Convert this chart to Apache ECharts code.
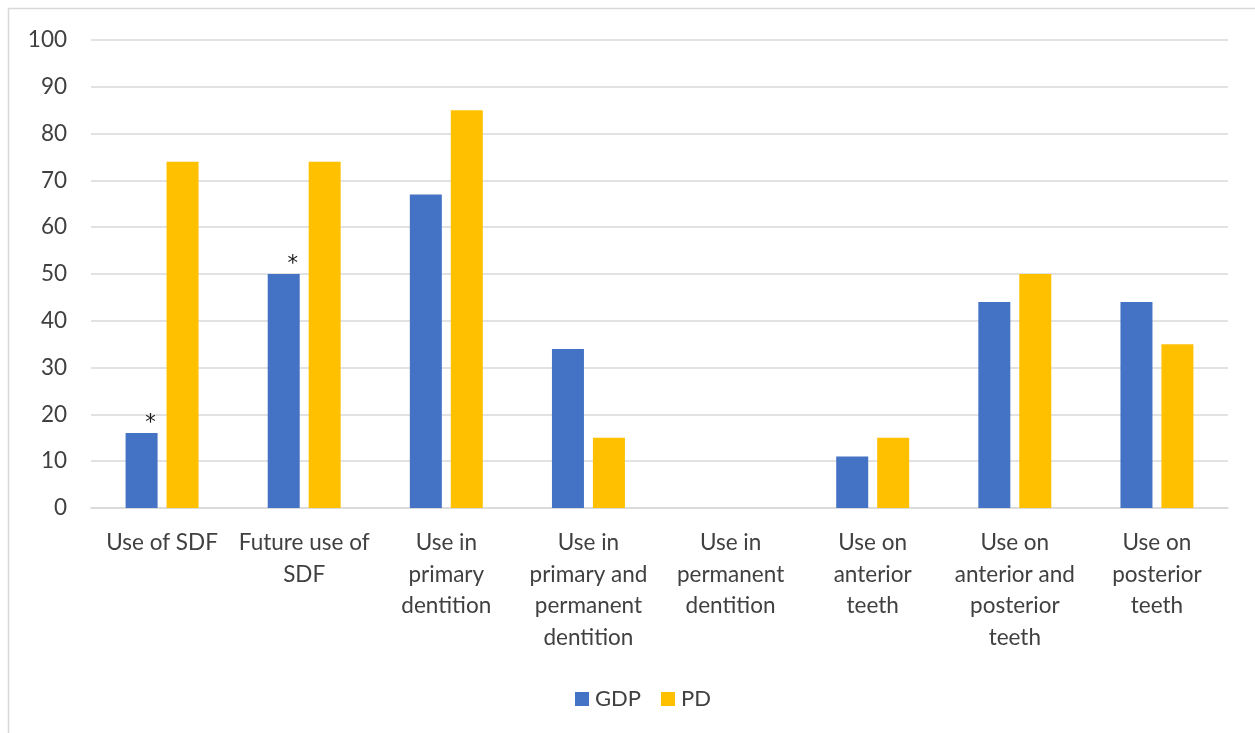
<!DOCTYPE html>
<html>
<head>
<meta charset="utf-8">
<script src="https://cdn.jsdelivr.net/npm/echarts@6/dist/echarts.min.js"></script>
<style>
  html, body { margin: 0; padding: 0; background: #ffffff; }
  #chart { width: 1255px; height: 733px; }
</style>
</head>
<body>
<div id="chart"></div>
<script>
// Category labels (line breaks as shown under the axis)
const categories = [
  'Use of SDF',
  'Future use of\nSDF',
  'Use in\nprimary\ndentition',
  'Use in\nprimary and\npermanent\ndentition',
  'Use in\npermanent\ndentition',
  'Use on\nanterior\nteeth',
  'Use on\nanterior and\nposterior\nteeth',
  'Use on\nposterior\nteeth'
];

// Percentages per group
const gdpValues = [16, 50, 67, 34, 0, 11, 44, 44];
const pdValues  = [74, 74, 85, 15, 0, 15, 50, 35];

// Categories whose GDP bar carries a significance marker
const gdpMarked = [true, true, false, false, false, false, false, false];

const yTicks = { min: 0, max: 100, interval: 10 };

const FONT = 'Lato, "Open Sans", sans-serif';
const TEXT = '#404040';

const chart = echarts.init(document.getElementById('chart'));

chart.setOption({
  backgroundColor: '#ffffff',
  animation: false,
  textStyle: { fontFamily: FONT },
  graphic: [{
    type: 'rect',
    shape: { x: 8.5, y: 8.5, width: 1400, height: 900 },
    style: { fill: 'none', stroke: '#d9d9d9', lineWidth: 1.5 },
    silent: true
  }],
  grid: { left: 91, right: 27, top: 40, bottom: 225, containLabel: false },
  legend: {
    data: ['GDP', 'PD'],
    left: 570,
    top: 683,
    itemWidth: 14,
    itemHeight: 14,
    itemGap: 20,
    icon: 'rect',
    textStyle: { fontFamily: FONT, fontSize: 22, color: TEXT, padding: [0, 0, 0, 1] }
  },
  xAxis: {
    type: 'category',
    data: categories,
    axisLine: { show: true, lineStyle: { color: '#d9d9d9', width: 1.5 } },
    axisTick: { show: false },
    axisLabel: {
      interval: 0,
      margin: 19,
      fontFamily: FONT,
      fontSize: 22.5,
      color: TEXT,
      lineHeight: 31.5,
      align: 'center',
      verticalAlign: 'top'
    }
  },
  yAxis: {
    type: 'value',
    min: yTicks.min,
    max: yTicks.max,
    interval: yTicks.interval,
    axisLine: { show: false },
    axisTick: { show: false },
    splitLine: { lineStyle: { color: '#d9d9d9', width: 1.5 } },
    axisLabel: { fontFamily: FONT, fontSize: 22.5, color: TEXT, margin: 24 }
  },
  series: [
    {
      name: 'GDP',
      type: 'bar',
      barWidth: 32,
      barGap: '28%',
      itemStyle: { color: '#4472c4' },
      data: gdpValues.map((v, i) => ({
        value: v,
        label: {
          show: gdpMarked[i],
          position: 'top',
          formatter: '*',
          offset: [9, 6],
          fontSize: 21,
          color: '#1a1a1a',
          fontFamily: '"DejaVu Sans", sans-serif'
        }
      }))
    },
    {
      name: 'PD',
      type: 'bar',
      barWidth: 32,
      itemStyle: { color: '#ffc000' },
      data: pdValues
    }
  ]
});
</script>
</body>
</html>
